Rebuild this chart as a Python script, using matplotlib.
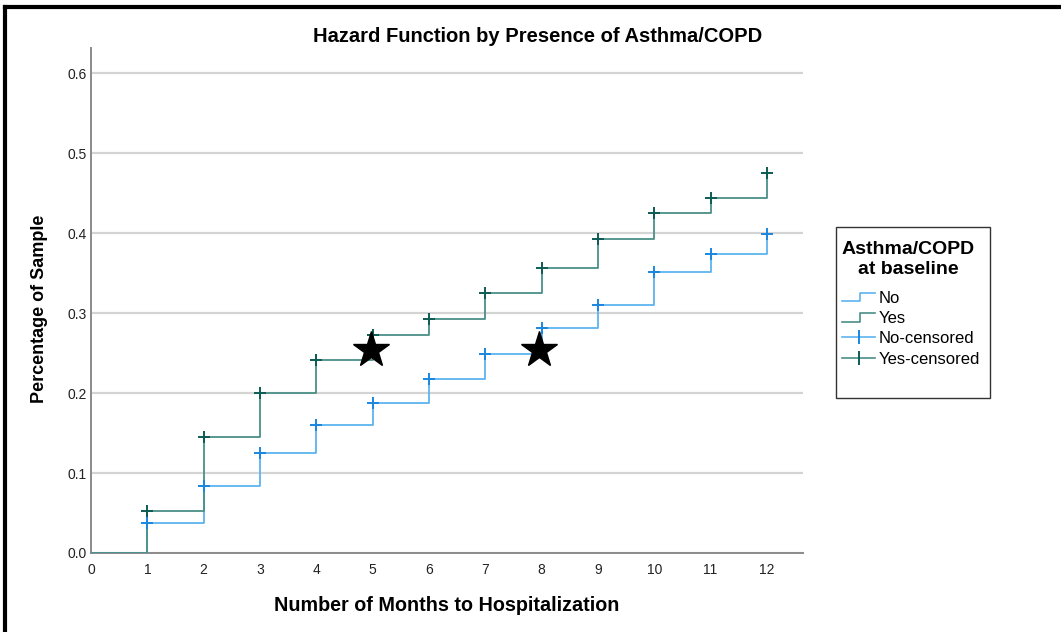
import matplotlib
matplotlib.use("Agg")
import matplotlib.pyplot as plt
from matplotlib.legend_handler import HandlerBase
from matplotlib.lines import Line2D
from matplotlib.patches import Rectangle

plt.rcParams["font.family"] = ["Liberation Sans", "DejaVu Sans"]

# ---- data ----
months = [0, 1, 2, 3, 4, 5, 6, 7, 8, 9, 10, 11, 12]
haz_no = [0.0, 0.038, 0.084, 0.125, 0.160, 0.188, 0.218, 0.249, 0.281, 0.310, 0.351, 0.374, 0.399]
haz_yes = [0.0, 0.053, 0.145, 0.200, 0.241, 0.272, 0.293, 0.325, 0.356, 0.393, 0.425, 0.444, 0.475]
star_x = [4.97, 7.95]
star_y = [0.254, 0.254]

C_NO = "#5db4ef"
C_YES = "#4a8f88"
C_NO_CEN = "#1a86e0"
C_YES_CEN = "#0d5c55"


class StepHandler(HandlerBase):
    def create_artists(self, legend, orig, xd, yd, w, h, fontsize, trans):
        xs = [xd, xd + w * 0.55, xd + w * 0.55, xd + w]
        ys = [yd + h * 0.1, yd + h * 0.1, yd + h * 0.85, yd + h * 0.85]
        ln = Line2D(xs, ys, color=orig.get_color(), lw=1.2, transform=trans)
        return [ln]


fig = plt.figure(figsize=(10.61, 6.32), dpi=100)
ax = fig.add_axes([0.0858, 0.125, 0.671, 0.799])

l_no, = ax.step(months, haz_no, where="post", color=C_NO, lw=1.3, zorder=3)
l_yes, = ax.step(months, haz_yes, where="post", color=C_YES, lw=1.3, zorder=3)
ax.plot(months[1:], haz_no[1:], ls="none", marker="+", ms=8, mew=1.4,
        color=C_NO_CEN, zorder=4)
ax.plot(months[1:], haz_yes[1:], ls="none", marker="+", ms=8, mew=1.4,
        color=C_YES_CEN, zorder=4)
ax.plot(star_x, star_y, ls="none", marker="*", ms=27, color="black", zorder=5)

ax.set_xlim(0, 12.64)
ax.set_ylim(0, 0.63125)
ax.set_xticks(months)
ax.set_yticks([0.0, 0.1, 0.2, 0.3, 0.4, 0.5, 0.6])
ax.set_yticklabels([f"{v:.1f}" for v in [0.0, 0.1, 0.2, 0.3, 0.4, 0.5, 0.6]])
ax.tick_params(length=0, labelsize=10, colors="#222222")
ax.tick_params(axis="x", pad=7)
ax.tick_params(axis="y", pad=3)
ax.yaxis.grid(True, color="#d4d4d4", lw=1.6)
ax.set_axisbelow(True)
for s in ["top", "right"]:
    ax.spines[s].set_visible(False)
for s in ["left", "bottom"]:
    ax.spines[s].set_color("#8a8a8a")
    ax.spines[s].set_linewidth(1.4)

fig.text(0.507, 0.943, "Hazard Function by Presence of Asthma/COPD", fontsize=14.5,
         fontweight="bold", ha="center", va="center")
ax.set_xlabel("Number of Months to Hospitalization", fontsize=14.2,
              fontweight="bold", labelpad=14)
ax.set_ylabel("Percentage of Sample", fontsize=13, fontweight="bold", labelpad=14)
ax.yaxis.label.set_y(0.483)

# legend proxies for censored marks (line with a tick through it)
p_no = Line2D([], [], color=C_NO, lw=1.2, marker="|", ms=10, mew=1.4, mec=C_NO_CEN)
p_yes = Line2D([], [], color=C_YES, lw=1.2, marker="|", ms=10, mew=1.4, mec=C_YES_CEN)

leg = fig.legend(handles=[l_no, l_yes, p_no, p_yes],
                 labels=["No", "Yes", "No-censored", "Yes-censored"],
                 handler_map={l_no: StepHandler(), l_yes: StepHandler()},
                 title="Asthma/COPD\nat baseline", loc="upper center",
                 bbox_to_anchor=(0.8585, 0.618), fontsize=12,
                 title_fontproperties={"weight": "bold", "size": 14},
                 frameon=False, handlelength=2.0, handletextpad=0.2,
                 labelspacing=0.32, borderpad=0, borderaxespad=0)
leg.get_title().set_multialignment("center")
leg._legend_box.align = "left"
leg._legend_box.sep = 9

fig.add_artist(Rectangle((836 / 1061, 1 - 398 / 632), 154 / 1061, 171 / 632,
                         transform=fig.transFigure, fill=False,
                         edgecolor="#333333", lw=1.0))

# outer black border (left and top visible)
fig.add_artist(Line2D([0.005, 0.005], [0, 0.989], color="black", lw=3,
                      transform=fig.transFigure))
fig.add_artist(Line2D([0.005, 1.0], [0.989, 0.989], color="black", lw=3,
                      transform=fig.transFigure))

fig.savefig("out.png", dpi=100)
